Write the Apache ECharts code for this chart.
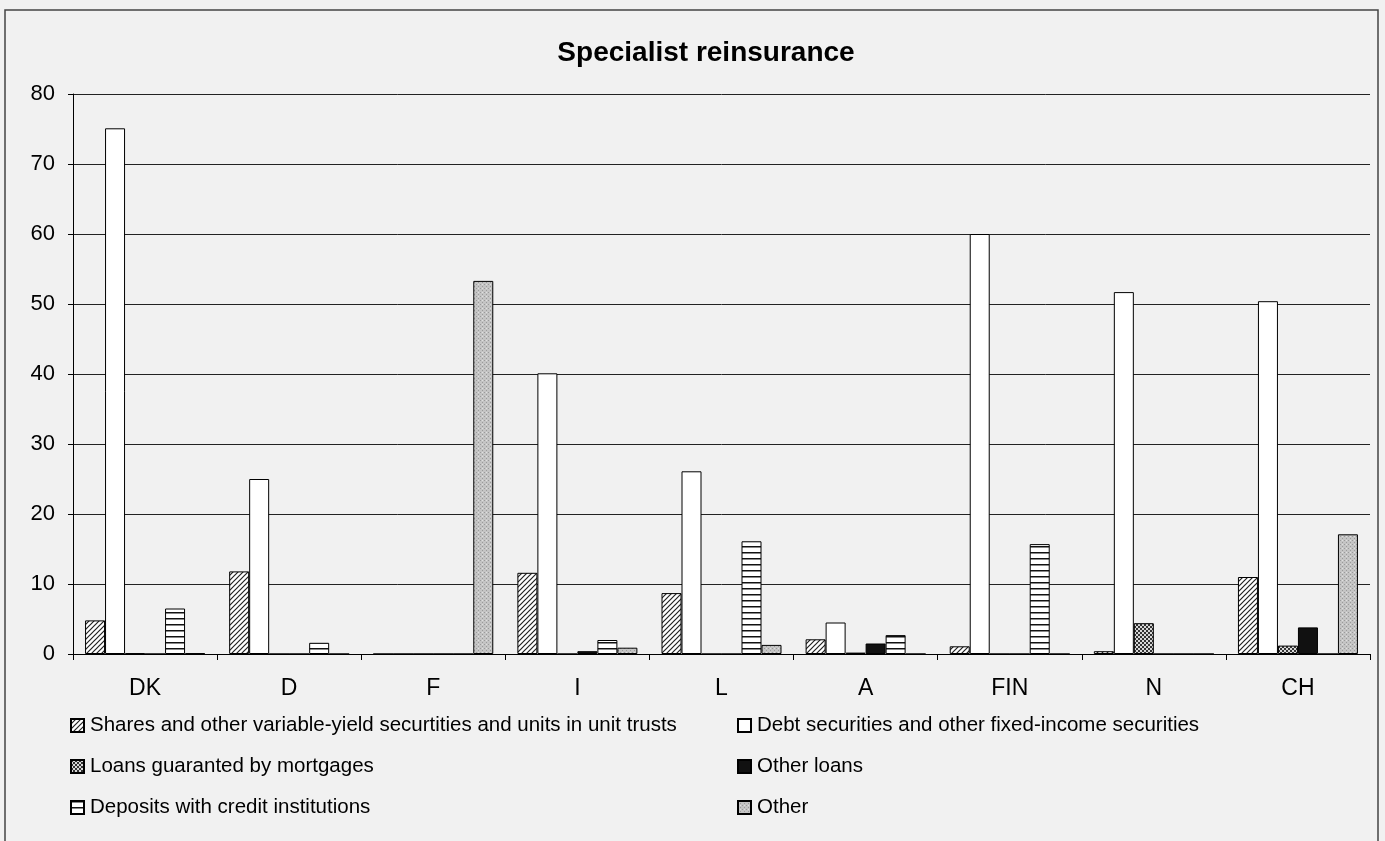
<!DOCTYPE html>
<html>
<head>
<meta charset="utf-8">
<script src="https://cdn.jsdelivr.net/npm/echarts@6/dist/echarts.min.js"></script>
<style>
  html, body { margin: 0; padding: 0; background: #f1f1f1; }
  #chart { width: 1385px; height: 841px; }
</style>
</head>
<body>
<div id="chart"></div>
<script>
    "use strict";
    var categories = ['DK', 'D', 'F', 'I', 'L', 'A', 'FIN', 'N', 'CH'];
    var seriesNames = [
        'Shares and other variable-yield securtities and units in unit trusts',
        'Debt securities and other fixed-income securities',
        'Loans guaranted by mortgages',
        'Other loans',
        'Deposits with credit institutions',
        'Other'
    ];
    var shares    = [4.8, 11.8, 0, 11.6, 8.7, 2.1, 1.1, 0.4, 11.0];
    var debt      = [75.1, 25.0, 0, 40.1, 26.1, 4.5, 60.0, 51.7, 50.4];
    var mortgages = [0.1, 0, 0, 0, 0, 0.2, 0, 4.4, 1.2];
    var otherLoans = [0, 0, 0, 0.4, 0, 1.5, 0, 0, 3.8];
    var deposits  = [6.5, 1.6, 0, 2.0, 16.1, 2.7, 15.7, 0, 0];
    var other     = [0.1, 0, 53.3, 0.9, 1.3, 0, 0, 0, 17.1];
    var yTicks = [0, 10, 20, 30, 40, 50, 60, 70, 80];

    // small canvas fills standing in for the old print patterns
    function makePattern(kind) {
        var c = document.createElement('canvas');
        var ctx = c.getContext('2d');
        if (kind === 'diag') {
            c.width = 5; c.height = 5;
            ctx.fillStyle = '#ffffff';
            ctx.fillRect(0, 0, 5, 5);
            ctx.strokeStyle = '#222';
            ctx.lineWidth = 1.2;
            ctx.beginPath();
            ctx.moveTo(-1, 6); ctx.lineTo(6, -1);
            ctx.moveTo(-1, 1); ctx.lineTo(1, -1);
            ctx.moveTo(4, 6); ctx.lineTo(6, 4);
            ctx.stroke();
        } else if (kind === 'check') {
            c.width = 4; c.height = 4;
            ctx.fillStyle = '#d8d8d8';
            ctx.fillRect(0, 0, 4, 4);
            ctx.fillStyle = '#333';
            ctx.fillRect(0, 0, 2, 2);
            ctx.fillRect(2, 2, 2, 2);
        } else if (kind === 'hline') {
            c.width = 6; c.height = 6;
            ctx.fillStyle = '#ffffff';
            ctx.fillRect(0, 0, 6, 6);
            ctx.fillStyle = '#111';
            ctx.fillRect(0, 0, 6, 1.5);
        } else if (kind === 'dots') {
            c.width = 4; c.height = 4;
            ctx.fillStyle = '#c4c4c4';
            ctx.fillRect(0, 0, 4, 4);
            ctx.fillStyle = '#9a9a9a';
            ctx.fillRect(0, 0, 1, 1);
            ctx.fillRect(2, 2, 1, 1);
            ctx.fillStyle = '#e0e0e0';
            ctx.fillRect(2, 0, 1, 1);
        }
        return { image: c, repeat: 'repeat' };
    }

    var fills = [
        makePattern('diag'),
        '#ffffff',
        makePattern('check'),
        '#111111',
        makePattern('hline'),
        makePattern('dots')
    ];
    var dataSets = [shares, debt, mortgages, otherLoans, deposits, other];

    var series = [];
    for (var i = 0; i < dataSets.length; i++) {
        series.push({
            name: seriesNames[i],
            type: 'bar',
            barWidth: 20,
            barGap: '0%',
            itemStyle: {
                color: fills[i],
                borderColor: '#000',
                borderWidth: 1
            },
            data: dataSets[i]
        });
    }

    var font = 'Liberation Sans, Arial, sans-serif';
    var chart = echarts.init(document.getElementById('chart'));
    var option = {
        backgroundColor: '#f1f1f1',
        animation: false,
        textStyle: { fontFamily: font, color: '#000' },
        title: {
            text: 'Specialist reinsurance',
            left: 701,
            top: 34,
            textAlign: 'center',
            textStyle: { fontSize: 28, fontWeight: 'bold', color: '#000', fontFamily: font }
        },
        graphic: [{
            type: 'rect',
            shape: { x: 5, y: 10, width: 1373, height: 840 },
            style: { fill: 'none', stroke: '#444', lineWidth: 1.5 },
            silent: true
        }],
        legend: [{
            orient: 'vertical',
            left: 65,
            top: 710,
            icon: 'rect',
            itemWidth: 13,
            itemHeight: 13,
            itemGap: 20,
            data: [seriesNames[0], seriesNames[2], seriesNames[4]],
            textStyle: { fontSize: 20.5, color: '#000', fontFamily: font, padding: [0, 0, 0, 1] }
        }, {
            orient: 'vertical',
            left: 732,
            top: 710,
            icon: 'rect',
            itemWidth: 13,
            itemHeight: 13,
            itemGap: 20,
            data: [seriesNames[1], seriesNames[3], seriesNames[5]],
            textStyle: { fontSize: 20.5, color: '#000', fontFamily: font, padding: [0, 0, 0, 1] }
        }],
        grid: {
            left: 73,
            right: 15,
            top: 94,
            bottom: 187,
            containLabel: false
        },
        xAxis: {
            type: 'category',
            data: categories,
            axisLine: { lineStyle: { color: '#000', width: 1 } },
            axisTick: { show: true, length: 6, lineStyle: { color: '#000' } },
            axisLabel: { fontSize: 23, color: '#000', margin: 23, fontFamily: font }
        },
        yAxis: {
            type: 'value',
            min: yTicks[0],
            max: yTicks[yTicks.length - 1],
            interval: 10,
            axisLine: { show: true, lineStyle: { color: '#000' } },
            axisTick: { show: true, length: 5, lineStyle: { color: '#000' } },
            axisLabel: { fontSize: 22, color: '#000', margin: 18, fontFamily: font },
            splitLine: { lineStyle: { color: '#222', width: 1 } }
        },
        series: series
    };
    chart.setOption(option);
</script>
</body>
</html>
